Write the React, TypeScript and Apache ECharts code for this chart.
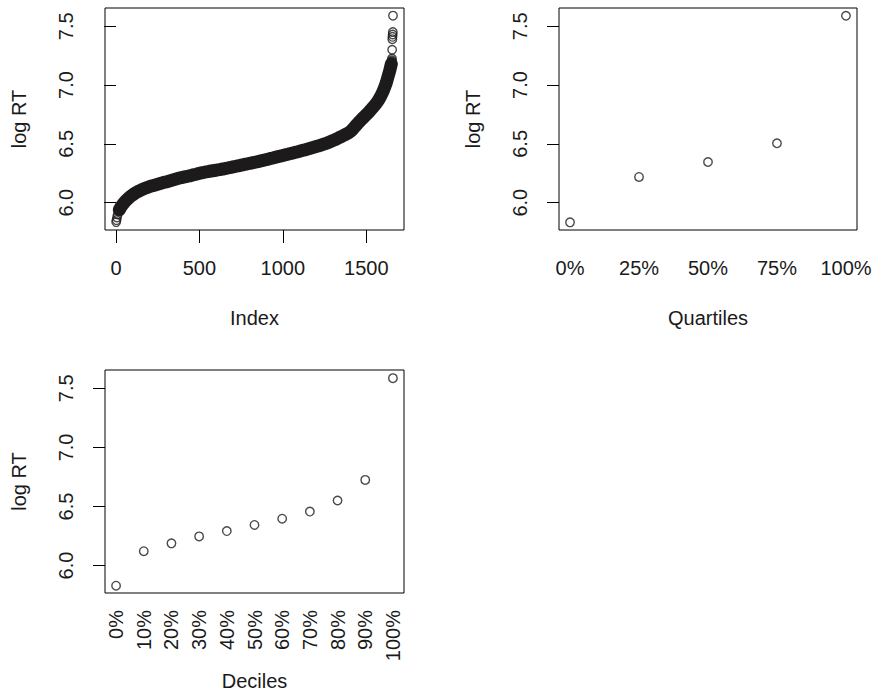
import React, { useEffect, useRef } from "react";
import * as echarts from "echarts";

// ---- data ----
const yTicks = [6.0, 6.5, 7.0, 7.5];
const indexTicks = [0, 500, 1000, 1500];

// sorted log RT, panel 1: first few points, then readings every 10 indices (0..1650), then the top tail
const headPairs: [number, number][] = [
  [1, 5.835],
  [3, 5.852],
  [6, 5.875],
];
const readStep = 10;
const sortedLogRT = [
  5.84, 5.9, 5.94, 5.965, 5.985, 6.003, 6.018, 6.032, 6.045, 6.057,
  6.067, 6.077, 6.086, 6.094, 6.101, 6.108, 6.114, 6.12, 6.126, 6.131,
  6.136, 6.141, 6.145, 6.149, 6.153, 6.157, 6.161, 6.165, 6.169, 6.173,
  6.177, 6.181, 6.185, 6.189, 6.193, 6.197, 6.201, 6.205, 6.209, 6.213,
  6.216, 6.219, 6.222, 6.225, 6.228, 6.232, 6.236, 6.239, 6.242, 6.246,
  6.25, 6.253, 6.256, 6.259, 6.262, 6.264, 6.267, 6.269, 6.272, 6.274,
  6.276, 6.279, 6.281, 6.284, 6.287, 6.289, 6.292, 6.295, 6.298, 6.301,
  6.304, 6.307, 6.31, 6.313, 6.316, 6.319, 6.322, 6.325, 6.328, 6.331,
  6.334, 6.337, 6.34, 6.343, 6.346, 6.349, 6.353, 6.356, 6.359, 6.363,
  6.366, 6.37, 6.373, 6.377, 6.38, 6.384, 6.388, 6.391, 6.395, 6.398,
  6.402, 6.405, 6.409, 6.412, 6.416, 6.419, 6.423, 6.426, 6.43, 6.433,
  6.437, 6.441, 6.445, 6.449, 6.453, 6.457, 6.461, 6.465, 6.469, 6.473,
  6.477, 6.481, 6.486, 6.49, 6.495, 6.5, 6.505, 6.51, 6.516, 6.522,
  6.528, 6.534, 6.541, 6.548, 6.555, 6.562, 6.569, 6.576, 6.583, 6.591,
  6.6, 6.612, 6.627, 6.643, 6.659, 6.675, 6.691, 6.706, 6.72, 6.734,
  6.748, 6.763, 6.778, 6.794, 6.81, 6.827, 6.845, 6.865, 6.888, 6.915,
  6.945, 6.98, 7.02, 7.07, 7.12, 7.18,
];
const tailPairs: [number, number][] = [
  [1645, 7.15],
  [1652, 7.2],
  [1653, 7.21],
  [1654, 7.225],
  [1655, 7.3],
  [1656, 7.39],
  [1657, 7.41],
  [1658, 7.43],
  [1659, 7.45],
  [1660, 7.59],
];

const quartileLabels = ["0%", "25%", "50%", "75%", "100%"];
const quartileValues = [5.833, 6.219, 6.346, 6.505, 7.589];

const decileLabels = ["0%", "10%", "20%", "30%", "40%", "50%", "60%", "70%", "80%", "90%", "100%"];
const decileValues = [5.83, 6.122, 6.188, 6.247, 6.292, 6.344, 6.397, 6.457, 6.551, 6.725, 7.586];

const FONT = "'Liberation Sans', Arial, Helvetica, sans-serif";
const TXT = "#1a1a1a";
const INK = "#1e1b1c";

export default function App() {
  const ref = useRef<HTMLDivElement>(null);

  useEffect(() => {
    if (!ref.current) return;
    const chart = echarts.init(ref.current, undefined, { renderer: "svg" });

    const stepPairs = sortedLogRT.map((v, i) => [i * readStep, v] as [number, number]);
    const indexData: [number, number][] = [
      ...headPairs,
      ...stepPairs.filter((p) => p[0] > 6),
      ...tailPairs,
    ];
    // the dense part of the sorted points, where the circles merge into one solid band
    const denseData = stepPairs.filter((p) => p[0] >= 20);
    const quartileData = quartileValues.map((v, i) => [i + 1, v]);
    const decileData = decileValues.map((v, i) => [i + 1, v]);

    const yAxisBase = (gridIndex: number) => ({
      type: "value" as const,
      gridIndex,
      min: 5.768,
      max: 7.655,
      name: "log RT",
      nameLocation: "middle" as const,
      nameRotate: 90,
      nameGap: 76,
      nameTextStyle: { fontSize: 20, fontFamily: FONT, color: TXT },
      axisLine: { show: false },
      splitLine: { show: false },
      axisTick: {
        show: true,
        length: 12,
        customValues: yTicks,
        lineStyle: { color: "#000", width: 1 },
      },
      axisLabel: {
        customValues: yTicks,
        rotate: 90,
        margin: 29,
        fontSize: 20,
        fontFamily: FONT,
        color: TXT,
        formatter: (v: number) => v.toFixed(1),
      },
    });

    const circleStyle = { color: "rgba(0,0,0,0)", borderColor: INK, borderWidth: 1.4 };

    const option: any = {
      animation: false,
      backgroundColor: "#fff",
      grid: [
        { left: 105, top: 8, width: 299, height: 222, show: true, borderColor: "#000", borderWidth: 1, backgroundColor: "transparent" },
        { left: 559, top: 8, width: 298, height: 222, show: true, borderColor: "#000", borderWidth: 1, backgroundColor: "transparent" },
        { left: 105, top: 370, width: 299, height: 223, show: true, borderColor: "#000", borderWidth: 1, backgroundColor: "transparent" },
      ],
      xAxis: [
        {
          type: "value",
          gridIndex: 0,
          min: -66,
          max: 1726,
          name: "Index",
          nameLocation: "middle",
          nameGap: 78,
          nameTextStyle: { fontSize: 20, fontFamily: FONT, color: TXT },
          axisLine: { show: false },
          splitLine: { show: false },
          axisTick: { show: true, length: 13, customValues: indexTicks, lineStyle: { color: "#000", width: 1 } },
          axisLabel: {
            customValues: indexTicks,
            margin: 28,
            fontSize: 20,
            fontFamily: FONT,
            color: TXT,
            formatter: (v: number) => String(Math.round(v)),
          },
        },
        {
          type: "value",
          gridIndex: 1,
          min: 0.84,
          max: 5.16,
          name: "Quartiles",
          nameLocation: "middle",
          nameGap: 78,
          nameTextStyle: { fontSize: 20, fontFamily: FONT, color: TXT },
          axisLine: { show: false },
          splitLine: { show: false },
          axisTick: { show: false },
          axisLabel: {
            customValues: quartileLabels.map((_, i) => i + 1),
            margin: 28,
            fontSize: 20,
            fontFamily: FONT,
            color: TXT,
            formatter: (v: number) => quartileLabels[Math.round(v) - 1] ?? "",
          },
        },
        {
          type: "value",
          gridIndex: 2,
          min: 0.6,
          max: 11.4,
          name: "Deciles",
          nameLocation: "middle",
          nameGap: 78,
          nameTextStyle: { fontSize: 20, fontFamily: FONT, color: TXT },
          axisLine: { show: false },
          splitLine: { show: false },
          axisTick: { show: false },
          axisLabel: {
            customValues: decileLabels.map((_, i) => i + 1),
            rotate: 90,
            margin: 17,
            fontSize: 20,
            fontFamily: FONT,
            color: TXT,
            formatter: (v: number) => decileLabels[Math.round(v) - 1] ?? "",
          },
        },
      ],
      yAxis: [yAxisBase(0), yAxisBase(1), yAxisBase(2)],
      series: [
        {
          type: "line",
          xAxisIndex: 0,
          yAxisIndex: 0,
          data: denseData,
          showSymbol: false,
          symbol: "none",
          silent: true,
          lineStyle: { color: INK, width: 13, cap: "round", join: "round" },
          z: 1,
        },
        {
          type: "scatter",
          xAxisIndex: 0,
          yAxisIndex: 0,
          data: indexData,
          symbol: "circle",
          symbolSize: 8.5,
          silent: true,
          itemStyle: circleStyle,
          z: 2,
        },
        {
          type: "scatter",
          xAxisIndex: 1,
          yAxisIndex: 1,
          data: quartileData,
          symbol: "circle",
          symbolSize: 8.5,
          silent: true,
          itemStyle: circleStyle,
        },
        {
          type: "scatter",
          xAxisIndex: 2,
          yAxisIndex: 2,
          data: decileData,
          symbol: "circle",
          symbolSize: 8.5,
          silent: true,
          itemStyle: circleStyle,
        },
      ],
    };

    chart.setOption(option);
    return () => chart.dispose();
  }, []);

  return (
    <div
      ref={ref}
      style={{ position: "absolute", left: 0, top: 0, width: 876, height: 692, background: "#fff" }}
    />
  );
}
